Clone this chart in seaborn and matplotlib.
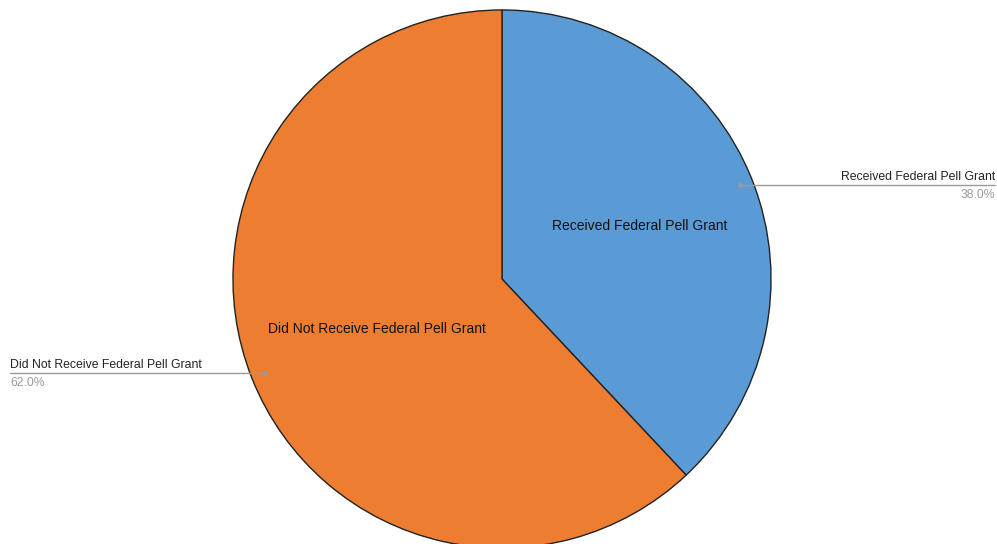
import matplotlib
matplotlib.use("Agg")
import matplotlib.pyplot as plt
import seaborn as sns

labels = ["Received Federal Pell Grant", "Did Not Receive Federal Pell Grant"]
shares = [38.0, 62.0]
colors = ["#5B9BD5", "#ED7D31"]

sns.set_theme(style="white")
plt.rcParams["font.family"] = ["Liberation Sans", "DejaVu Sans"]

fig = plt.figure(figsize=(9.97, 5.44), dpi=100)
ax = fig.add_axes([0, 0, 1, 1])

wedges, _ = ax.pie(shares, colors=colors, startangle=90, counterclock=False,
                   wedgeprops=dict(edgecolor="#222222", linewidth=1.0))

# labels inside slices
ax.text(0.513, 0.197, labels[0], ha="center", va="center", fontsize=10, color="#111111")
ax.text(-0.465, -0.186, labels[1], ha="center", va="center", fontsize=10, color="#111111")

# outside labels with leader lines
grey = "#9a9a9a"
ax.plot([0.885, 1.833], [0.349, 0.349], color=grey, lw=1)
ax.plot([0.885], [0.349], "o", color=grey, ms=2.5)
ax.text(1.833, 0.355, labels[0], ha="right", va="bottom", fontsize=8.8, color="#222222")
ax.text(1.833, 0.333, f"{shares[0]:.1f}%", ha="right", va="top", fontsize=8.8, color=grey)

ax.plot([-1.829, -0.881], [-0.349, -0.349], color=grey, lw=1)
ax.plot([-0.881], [-0.349], "o", color=grey, ms=2.5)
ax.text(-1.829, -0.343, labels[1], ha="left", va="bottom", fontsize=8.8, color="#222222")
ax.text(-1.829, -0.365, f"{shares[1]:.1f}%", ha="left", va="top", fontsize=8.8, color=grey)

ax.set_xlim(-1.866, 1.840)
ax.set_ylim(-0.985, 1.037)
ax.set_aspect("auto")
ax.axis("off")

fig.savefig("out.png", dpi=100)
